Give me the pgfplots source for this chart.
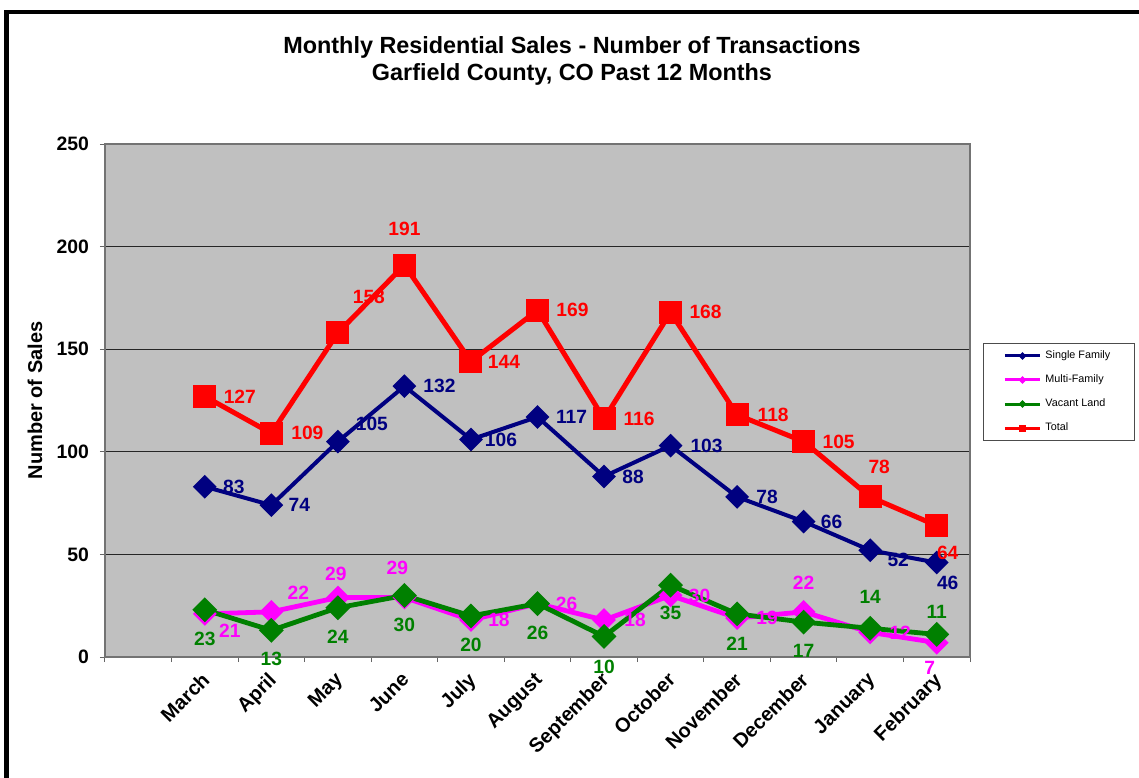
\documentclass[border=0pt]{standalone}
\usepackage{pgfplots}
\pgfplotsset{compat=1.18}
\usetikzlibrary{calc}
\usepackage{fontspec}
\setmainfont{Liberation Sans}
\definecolor{sfblue}{RGB}{0,0,128}
\definecolor{mfpink}{RGB}{255,0,255}
\definecolor{vlgreen}{RGB}{0,128,0}
\definecolor{totred}{RGB}{255,0,0}
\definecolor{plotgray}{RGB}{192,192,192}

\pgfplotsset{
  lbl/.style={
    nodes near coords,
    visualization depends on={\thisrow{dx} \as \lx},
    visualization depends on={\thisrow{dy} \as \ly},
    every node near coord/.append style={font=\bfseries\fontsize{9.6}{11}\selectfont,
      anchor=center, inner sep=0pt, text=#1,
      xshift={\lx*0.5pt}, yshift={-\ly*0.5pt}},
  },
  leg/.style={legend image code/.code={
    \draw[#1, line width=1.5pt] (0pt,0pt) -- (17.5pt,0pt);
    \draw[#1, line width=0.5pt, fill] (8.75pt,0pt) +(-1.6pt,0pt) -- +(0pt,1.6pt) -- +(1.6pt,0pt) -- +(0pt,-1.6pt) -- cycle;
  }},
}

\begin{document}
\begin{tikzpicture}
\begin{axis}[
  name=ax,
  scale only axis, width=432.5pt, height=256.5pt,
  xmin=-0.5, xmax=12.5, ymin=0, ymax=250,
  clip=false,
  /pgf/number format/assume math mode=true,
  axis background/.style={fill=plotgray},
  axis line style={draw=black!55, line width=0.6pt},
  ytick={0,50,...,250},
  ymajorgrids, major grid style={draw=black!85, line width=0.5pt},
  xtick={-0.5,0.5,...,12.5},
  xticklabels={},
  extra x ticks={1,...,12},
  extra x tick labels={March,April,May,June,July,August,September,October,November,December,January,February},
  extra x tick style={major tick length=0pt, xticklabel style={rotate=45, anchor=north east, xshift=-3pt, font=\bfseries\fontsize{10}{12}\selectfont}},
  tick pos=left,
  tick align=outside,
  major tick length=2.5pt,
  tick style={draw=black!60, line width=0.5pt},
  ticklabel style={font=\bfseries\fontsize{9.7}{11}\selectfont},
  yticklabel style={xshift=-2pt},
  ylabel={Number of Sales},
  ylabel style={font=\bfseries\fontsize{10}{12}\selectfont, at={(axis description cs:-0.081,0.5)}, anchor=center},
  legend style={at={(1.015,0.612)}, anchor=north west, draw=black!70, fill=white,
    line width=0.5pt, font=\fontsize{5.4}{6}\selectfont,
    inner xsep=10pt, inner ysep=1.5pt, row sep=2.6pt, cells={anchor=west}},
]
\addlegendimage{sfblue, leg}
\addlegendentry{Single Family}
\addlegendimage{mfpink, leg}
\addlegendentry{Multi-Family}
\addlegendimage{vlgreen, leg}
\addlegendentry{Vacant Land}
\addlegendimage{totred, legend image code/.code={
    \draw[totred, line width=1.5pt] (0pt,0pt) -- (17.5pt,0pt);
    \fill[totred] (7.25pt,-1.5pt) rectangle (10.25pt,1.5pt);}}
\addlegendentry{Total}
% Single Family: month, count, label offset in px (dx right, dy down)
\addplot[forget plot, sfblue, line width=2pt, mark=square*, mark size=3.2pt,
  mark options={rotate=45, fill=sfblue}, lbl=sfblue] table {
x y dx dy
1 83 29 0
2 74 28 0
3 105 34 -18
4 132 35 0
5 106 30 0
6 117 34 0
7 88 29 0
8 103 36 0
9 78 30 0
10 66 28 0
11 52 28 10
12 46 11 20
};
% Multi-Family
\addplot[forget plot, mfpink, line width=2.4pt, mark=square*, mark size=3pt,
  mark options={rotate=45, fill=mfpink}, lbl=mfpink] table {
x y dx dy
1 21 25 17
2 22 27 -19
3 29 -2 -24
4 29 -7 -30
5 18 28 0
6 26 29 0
7 18 31 0
8 30 29 0
9 19 30 0
10 22 0 -29
11 12 30 0
12 7 -7 25
};
% Vacant Land
\addplot[forget plot, vlgreen, line width=2.4pt, mark=square*, mark size=3.2pt,
  mark options={rotate=45, fill=vlgreen}, lbl=vlgreen] table {
x y dx dy
1 23 0 29
2 13 0 29
3 24 0 29
4 30 0 29
5 20 0 29
6 26 0 29
7 10 0 30
8 35 0 28
9 21 0 30
10 17 0 29
11 14 0 -31
12 11 0 -23
};
% Total
\addplot[forget plot, totred, line width=2.5pt, mark=square*, mark size=4.5pt,
  mark options={fill=totred}, lbl=totred] table {
x y dx dy
1 127 35 0
2 109 36 0
3 158 31 -36
4 191 0 -36
5 144 33 0
6 169 35 0
7 116 35 0
8 168 35 0
9 118 36 0
10 105 35 0
11 78 9 -30
12 64 11 27
};
\end{axis}
\coordinate (o) at ($(ax.south west)+(-52.5pt,-60pt)$);
\draw[line width=2.2pt] ($(o)+(3.2pt,-30pt)$) rectangle ($(o)+(620pt,382.5pt)$);
\node[font=\bfseries\fontsize{11.7}{13.5}\selectfont, align=center] at ($(o)+(286pt,358pt)$)
  {Monthly Residential Sales - Number of Transactions\\Garfield County, CO Past 12 Months};
\pgfresetboundingbox
\useasboundingbox (o) rectangle ($(o)+(569.5pt,388.5pt)$);
\end{tikzpicture}
\end{document}
